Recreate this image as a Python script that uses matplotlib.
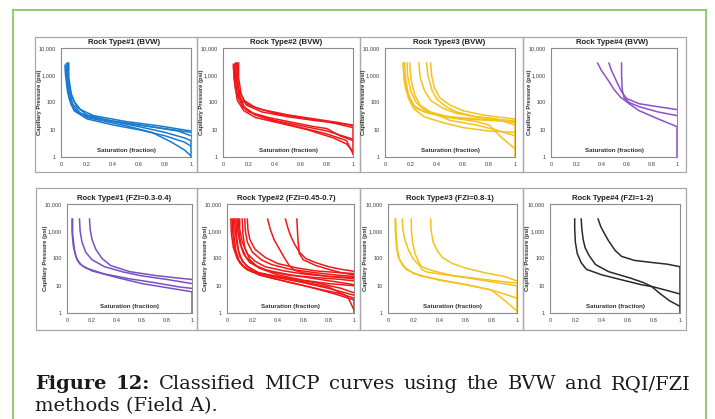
import matplotlib
matplotlib.use("Agg")
import matplotlib.pyplot as plt
from matplotlib.lines import Line2D
from matplotlib.patches import Rectangle
from matplotlib.ticker import FixedLocator, FixedFormatter

W, H = 715, 419

# ---- MICP curves, each one a list of (saturation, capillary pressure psi) ----
bvw_rt1 = [
    [(0.03, 2300), (0.035, 1000), (0.05, 250), (0.08, 80), (0.12, 45), (0.2, 30), (0.4, 20), (0.6, 15), (0.8, 11), (1.0, 8)],
    [(0.05, 2800), (0.055, 900), (0.07, 250), (0.1, 110), (0.15, 55), (0.25, 33), (0.5, 20), (0.75, 14), (1.0, 9)],
    [(0.06, 2800), (0.06, 800), (0.08, 200), (0.12, 70), (0.2, 35), (0.4, 20), (0.6, 13), (0.8, 8), (0.95, 5), (1.0, 4), (1.0, 1)],
    [(0.04, 2600), (0.045, 700), (0.06, 150), (0.1, 50), (0.2, 25), (0.4, 15), (0.6, 10), (0.8, 6), (0.95, 3.5), (1.0, 2.5)],
    [(0.05, 2700), (0.05, 1200), (0.07, 200), (0.1, 60), (0.2, 28), (0.5, 14), (0.7, 8), (0.85, 3.5), (0.95, 1.8), (1.0, 1.1)],
    [(0.045, 2500), (0.05, 500), (0.08, 100), (0.15, 40), (0.3, 25), (0.6, 15), (0.9, 9), (1.0, 6)],
]
bvw_rt2 = [
    [(0.08, 2500), (0.085, 800), (0.1, 250), (0.14, 120), (0.2, 80), (0.3, 55), (0.5, 35), (0.7, 25), (0.9, 18), (1.0, 14)],
    [(0.1, 2800), (0.1, 1000), (0.12, 300), (0.16, 120), (0.25, 65), (0.4, 40), (0.6, 28), (0.8, 20), (1.0, 12), (1.0, 1.3)],
    [(0.11, 2800), (0.115, 600), (0.13, 150), (0.17, 60), (0.25, 35), (0.4, 22), (0.6, 14), (0.8, 9), (1.0, 4.5)],
    [(0.09, 2600), (0.095, 700), (0.11, 180), (0.15, 70), (0.2, 45), (0.35, 28), (0.55, 18), (0.7, 13), (0.8, 11), (0.9, 6), (1.0, 4)],
    [(0.1, 2800), (0.1, 900), (0.12, 220), (0.16, 70), (0.25, 35), (0.4, 20), (0.6, 12), (0.8, 7), (0.95, 4), (1.0, 1.3)],
    [(0.08, 2200), (0.09, 500), (0.11, 120), (0.16, 50), (0.25, 28), (0.45, 17), (0.65, 10), (0.85, 5), (0.95, 3), (1.0, 1.6)],
    [(0.12, 2800), (0.12, 800), (0.14, 200), (0.18, 80), (0.3, 45), (0.5, 30), (0.7, 22), (0.9, 17), (1.0, 15)],
]
bvw_rt3 = [
    [(0.14, 2800), (0.145, 800), (0.16, 300), (0.19, 120), (0.24, 60), (0.35, 40), (0.5, 30), (0.7, 25), (1.0, 22)],
    [(0.15, 2800), (0.16, 700), (0.18, 200), (0.22, 80), (0.3, 45), (0.45, 30), (0.6, 25), (0.8, 22), (1.0, 20)],
    [(0.17, 2800), (0.175, 900), (0.2, 250), (0.24, 100), (0.3, 55), (0.4, 35), (0.5, 22), (0.7, 15), (0.85, 10), (1.0, 6)],
    [(0.19, 2800), (0.2, 700), (0.23, 180), (0.27, 80), (0.35, 45), (0.5, 28), (0.7, 20), (0.8, 15), (0.9, 5), (1.0, 2)],
    [(0.26, 2800), (0.27, 900), (0.3, 300), (0.35, 120), (0.45, 60), (0.55, 40), (0.7, 30), (0.85, 25), (1.0, 18)],
    [(0.32, 2800), (0.33, 1000), (0.36, 300), (0.4, 130), (0.47, 70), (0.55, 45), (0.7, 30), (0.85, 25), (1.0, 15)],
    [(0.35, 2800), (0.36, 900), (0.38, 350), (0.42, 150), (0.5, 80), (0.6, 50), (0.75, 35), (0.9, 28), (1.0, 25), (1.0, 1)],
    [(0.14, 2800), (0.15, 600), (0.18, 150), (0.22, 60), (0.3, 30), (0.45, 18), (0.6, 12), (0.8, 9), (1.0, 8)],
]
bvw_rt4 = [
    [(0.37, 2800), (0.4, 1500), (0.45, 700), (0.5, 300), (0.55, 160), (0.62, 90), (0.7, 50), (0.85, 25), (1.0, 13), (1.0, 1)],
    [(0.46, 2800), (0.48, 1500), (0.52, 600), (0.56, 250), (0.6, 140), (0.7, 90), (0.85, 70), (1.0, 55)],
    [(0.56, 2800), (0.56, 1000), (0.565, 300), (0.58, 150), (0.62, 100), (0.7, 70), (0.85, 45), (1.0, 33)],
]
fzi_rt1 = [
    [(0.04, 2800), (0.04, 1000), (0.05, 300), (0.07, 120), (0.1, 65), (0.15, 45), (0.3, 27), (0.5, 18), (0.7, 13), (0.9, 9), (1.0, 8)],
    [(0.045, 2800), (0.045, 800), (0.06, 200), (0.08, 90), (0.12, 55), (0.2, 35), (0.4, 20), (0.6, 12), (0.8, 8.5), (1.0, 6), (1.0, 1)],
    [(0.1, 2800), (0.105, 1000), (0.12, 400), (0.15, 170), (0.2, 90), (0.3, 50), (0.45, 32), (0.6, 23), (0.8, 17), (1.0, 12)],
    [(0.18, 2800), (0.185, 1200), (0.2, 500), (0.23, 220), (0.28, 100), (0.35, 55), (0.5, 33), (0.7, 24), (0.85, 20), (1.0, 17)],
]
fzi_rt2 = [
    [(0.03, 2800), (0.035, 800), (0.05, 250), (0.08, 100), (0.12, 55), (0.2, 32), (0.4, 20), (0.6, 13), (0.8, 8), (1.0, 4.5)],
    [(0.04, 2800), (0.045, 900), (0.06, 250), (0.09, 90), (0.14, 45), (0.25, 25), (0.45, 15), (0.65, 9), (0.85, 5), (1.0, 3)],
    [(0.06, 2800), (0.065, 1000), (0.08, 300), (0.1, 120), (0.15, 55), (0.25, 30), (0.45, 20), (0.7, 13), (0.9, 8), (1.0, 5.5)],
    [(0.07, 2800), (0.075, 700), (0.09, 200), (0.12, 80), (0.2, 35), (0.35, 22), (0.6, 14), (0.8, 9), (0.95, 4), (1.0, 1.3)],
    [(0.08, 2800), (0.085, 1000), (0.1, 400), (0.13, 150), (0.18, 70), (0.3, 38), (0.5, 25), (0.7, 18), (0.9, 13), (1.0, 11)],
    [(0.09, 2800), (0.095, 900), (0.11, 300), (0.15, 110), (0.22, 55), (0.35, 32), (0.5, 24), (0.7, 20), (0.9, 17), (1.0, 15)],
    [(0.1, 2800), (0.1, 1200), (0.12, 400), (0.16, 150), (0.22, 80), (0.3, 50), (0.45, 35), (0.6, 27), (0.8, 22), (1.0, 20)],
    [(0.14, 2800), (0.145, 1000), (0.16, 400), (0.2, 170), (0.27, 90), (0.35, 60), (0.5, 40), (0.7, 30), (0.85, 25), (1.0, 22)],
    [(0.16, 2800), (0.165, 1100), (0.18, 500), (0.22, 220), (0.3, 110), (0.4, 65), (0.55, 45), (0.7, 35), (0.9, 30), (1.0, 28)],
    [(0.32, 2800), (0.34, 1200), (0.37, 500), (0.4, 280), (0.45, 110), (0.49, 55), (0.53, 37), (0.6, 30), (0.8, 22), (1.0, 18)],
    [(0.46, 2800), (0.48, 1300), (0.5, 700), (0.53, 350), (0.57, 170), (0.62, 100), (0.7, 70), (0.8, 50), (0.9, 40), (1.0, 34)],
    [(0.55, 2800), (0.555, 1000), (0.56, 400), (0.57, 150), (0.6, 90), (0.7, 55), (0.8, 40), (0.9, 30), (1.0, 25)],
    [(0.05, 2800), (0.055, 700), (0.07, 180), (0.1, 70), (0.16, 38), (0.3, 22), (0.5, 13), (0.7, 8), (0.9, 5), (1.0, 3.5), (1.0, 1)],
    [(0.12, 2800), (0.125, 800), (0.14, 250), (0.18, 90), (0.25, 45), (0.4, 25), (0.6, 16), (0.8, 12), (1.0, 10)],
]
fzi_rt3 = [
    [(0.055, 2800), (0.057, 1000), (0.065, 300), (0.08, 110), (0.12, 50), (0.2, 28), (0.4, 16), (0.6, 11), (0.8, 7), (0.9, 5), (1.0, 3.5)],
    [(0.06, 2800), (0.062, 900), (0.07, 250), (0.09, 90), (0.14, 40), (0.25, 23), (0.45, 15), (0.65, 10), (0.8, 7), (0.9, 3), (1.0, 1.2)],
    [(0.11, 2800), (0.115, 1200), (0.13, 500), (0.16, 200), (0.2, 90), (0.25, 52), (0.35, 35), (0.5, 24), (0.7, 18), (0.9, 14), (1.0, 12.5)],
    [(0.18, 2800), (0.182, 1000), (0.19, 400), (0.21, 150), (0.24, 70), (0.25, 60), (0.26, 40), (0.3, 32), (0.4, 27), (0.6, 20), (0.8, 14), (1.0, 10), (1.0, 1)],
    [(0.33, 2800), (0.335, 1000), (0.35, 400), (0.38, 200), (0.42, 110), (0.5, 65), (0.6, 45), (0.75, 30), (0.9, 22), (1.0, 15)],
]
fzi_rt4 = [
    [(0.19, 2800), (0.19, 1200), (0.195, 400), (0.21, 150), (0.24, 70), (0.28, 40), (0.4, 25), (0.54, 17), (0.7, 11), (0.8, 9), (1.0, 5)],
    [(0.24, 2800), (0.245, 1200), (0.255, 500), (0.27, 250), (0.3, 130), (0.35, 60), (0.45, 33), (0.62, 19), (0.72, 13), (0.78, 9.5), (0.85, 5), (0.92, 2.8), (1.0, 1.75)],
    [(0.37, 2800), (0.39, 1500), (0.42, 800), (0.45, 450), (0.5, 200), (0.55, 120), (0.65, 85), (0.8, 70), (0.9, 62), (1.0, 50), (1.0, 1)],
]

top_titles = ["Rock Type#1 (BVW)", "Rock Type#2 (BVW)", "Rock Type#3 (BVW)", "Rock Type#4 (BVW)"]
bot_titles = ["Rock Type#1 (FZI=0.3-0.4)", "Rock Type#2 (FZI=0.45-0.7)",
              "Rock Type#3 (FZI=0.8-1)", "Rock Type#4 (FZI=1-2)"]
top_colors = ["#1b7ad0", "#f01818", "#f5c21b", "#8a52c8"]
bot_colors = ["#7b4fc4", "#f01818", "#f5c21b", "#2a2a2a"]

x_ticks = [0, 0.2, 0.4, 0.6, 0.8, 1]
x_labels = ["0", "0.2", "0.4", "0.6", "0.8", "1"]
y_ticks = [1, 10, 100, 1000, 10000]
y_labels = ["1", "10", "100", "1,000", "10,000"]

caption_bold = "Figure 12:"
caption_line1 = "Classified MICP curves using the BVW and RQI/FZI"
caption_line2 = "methods (Field A)."

# pixel layout (left, top, right, bottom)
top_frames = [(35, 37, 197, 172), (197, 37, 360, 172), (360, 37, 523, 172), (523, 37, 686, 172)]
top_plots = [(61, 48, 191, 157), (223, 48, 353, 157), (385, 48, 515, 157), (551, 48, 677, 157)]
bot_frames = [(36, 188, 197, 330), (197, 188, 360, 330), (360, 188, 523, 330), (523, 188, 686, 330)]
bot_plots = [(67, 204, 192, 313), (227, 204, 354, 313), (388, 204, 517, 313), (550, 204, 680, 313)]

CHART_FONT = "Liberation Sans"


def fx(px):
    return px / W


def fy(py):
    return 1 - py / H


def draw_panel(fig, frame, plot, title, curves, color):
    l, t, r, b = frame
    fig.patches.append(Rectangle((fx(l), fy(b)), fx(r - l), (b - t) / H,
                                 transform=fig.transFigure, fill=False,
                                 edgecolor="#a8a8a8", lw=0.9))
    pl, pt, pr, pb = plot
    ax = fig.add_axes([fx(pl), fy(pb), fx(pr - pl), (pb - pt) / H])
    for c in curves:
        sw = [p[0] for p in c]
        pc = [p[1] for p in c]
        ax.plot(sw, pc, color=color, lw=1.1, solid_joinstyle="round")
    ax.set_yscale("log")
    ax.set_xlim(0, 1)
    ax.set_ylim(1, 10000)
    ax.xaxis.set_major_locator(FixedLocator(x_ticks))
    ax.xaxis.set_major_formatter(FixedFormatter(x_labels))
    ax.yaxis.set_major_locator(FixedLocator(y_ticks))
    ax.yaxis.set_major_formatter(FixedFormatter(y_labels))
    ax.yaxis.set_minor_locator(FixedLocator([]))
    ax.tick_params(length=0, labelsize=4.1, colors="#404040", pad=3.5)
    for lab in ax.get_xticklabels() + ax.get_yticklabels():
        lab.set_fontfamily(CHART_FONT)
    for s in ax.spines.values():
        s.set_color("#8c8c8c")
        s.set_linewidth(0.8)
    ax.text(0.5, 0.035, "Saturation (fraction)", transform=ax.transAxes,
            ha="center", va="bottom", fontsize=4.4, fontweight="bold",
            family=CHART_FONT, color="#303030")
    fig.text(fx((l + r) / 2 + 8), fy(pt - 6), title, ha="center", va="center",
             fontsize=5.6, fontweight="bold", family=CHART_FONT, color="#202020")
    fig.text(fx(pl - 22), fy((pt + pb) / 2), "Capillary Pressure (psi)",
             rotation=90, ha="center", va="center", fontsize=4.2,
             fontweight="bold", family=CHART_FONT, color="#303030")
    return ax


fig = plt.figure(figsize=(W / 100, H / 100), dpi=100)

# green page border (open at the bottom)
green = "#8cc660"
fig.lines.append(Line2D([fx(13), fx(13)], [fy(419), fy(10)], transform=fig.transFigure, color=green, lw=1.3))
fig.lines.append(Line2D([fx(13), fx(706)], [fy(10), fy(10)], transform=fig.transFigure, color=green, lw=1.3))
fig.lines.append(Line2D([fx(706), fx(706)], [fy(10), fy(419)], transform=fig.transFigure, color=green, lw=1.3))

top_sets = [bvw_rt1, bvw_rt2, bvw_rt3, bvw_rt4]
bot_sets = [fzi_rt1, fzi_rt2, fzi_rt3, fzi_rt4]
for i in range(4):
    draw_panel(fig, top_frames[i], top_plots[i], top_titles[i], top_sets[i], top_colors[i])
    draw_panel(fig, bot_frames[i], bot_plots[i], bot_titles[i], bot_sets[i], bot_colors[i])

# caption, first line justified across the frame width
cap_size = 14
cap_family = "DejaVu Serif"
fig.canvas.draw()
renderer = fig.canvas.get_renderer()

words = [(w, "bold") for w in caption_bold.split()] + [(w, "normal") for w in caption_line1.split()]
texts = []
for w, weight in words:
    t = fig.text(0, fy(389), w, fontsize=cap_size, fontweight=weight,
                 family=cap_family, color="#1a1a1a", va="baseline")
    texts.append(t)
widths = [t.get_window_extent(renderer).width for t in texts]
x_left, x_right = 35, 691
gap = (x_right - x_left - sum(widths)) / (len(texts) - 1)
x = x_left
for t, wdt in zip(texts, widths):
    t.set_x(fx(x))
    x += wdt + gap

fig.text(fx(x_left), fy(411), caption_line2, fontsize=cap_size,
         family=cap_family, color="#1a1a1a", va="baseline")

fig.savefig("out.png", dpi=100)
